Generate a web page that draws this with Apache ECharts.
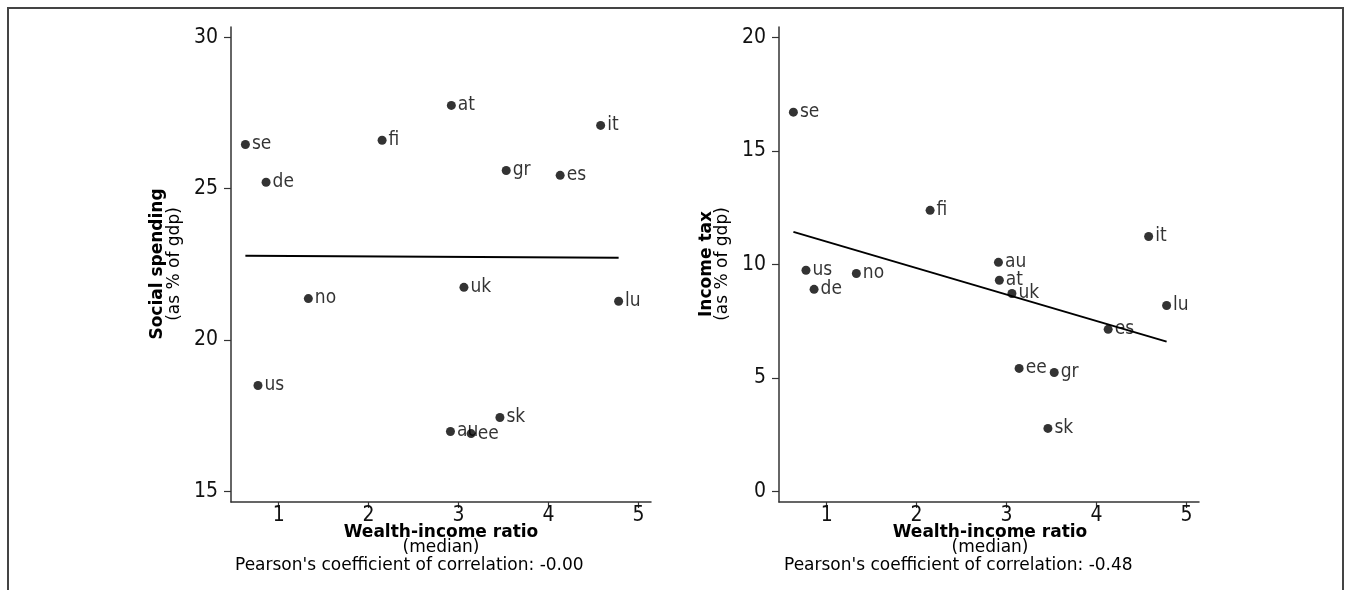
<!DOCTYPE html>
<html>
<head>
<meta charset="utf-8">
<script src="https://cdn.jsdelivr.net/npm/echarts@6/dist/echarts.min.js"></script>
<style>
html,body{margin:0;padding:0;background:#fff;}
#chart{width:1348px;height:590px;}
</style>
</head>
<body>
<div id="chart"></div>
<script>
// ---- data ----
const countries = ['se','de','fi','at','gr','es','it','no','uk','lu','us','au','ee','sk'];
const wealthIncome = [0.63,0.86,2.15,2.92,3.53,4.13,4.58,1.33,3.06,4.78,0.77,2.91,3.14,3.46];
const socialSpending = [26.46,25.21,26.60,27.75,25.60,25.44,27.09,21.37,21.74,21.28,18.50,16.98,16.91,17.44];
const incomeTax = [16.70,8.90,12.38,9.30,5.24,7.14,11.23,9.60,8.72,8.19,9.74,10.09,5.42,2.78];
const fitX = [0.63, 4.78];
const socialFitY = [22.78, 22.72];
const incomeFitY = [11.43, 6.60];
const xTicks = [1,2,3,4,5];
const socialTicks = [15,20,25,30];
const incomeTicks = [0,5,10,15,20];
const pearsonSocial = '-0.00';
const pearsonIncome = '-0.48';

const FONT = 'DejaVu Sans';
const CFONT = '"DejaVu Sans Condensed", "DejaVu Sans"';
const chart = echarts.init(document.getElementById('chart'), null, {renderer:'canvas'});

function xAxisCfg(gridIndex){
  return {
    type:'value', gridIndex, min:0.47, max:5.14,
    axisLine:{show:true, onZero:false, lineStyle:{color:'#333', width:1.5}},
    axisTick:{show:true, length:6, customValues:xTicks, lineStyle:{color:'#333', width:1.2}},
    axisLabel:{show:true, customValues:xTicks, margin:3, fontSize:21, fontFamily:CFONT, color:'#111'},
    splitLine:{show:false}
  };
}
function yAxisCfg(gridIndex, min, max, ticks){
  return {
    type:'value', gridIndex, min, max,
    axisLine:{show:true, onZero:false, lineStyle:{color:'#333', width:1.5}},
    axisTick:{show:true, length:7, customValues:ticks, lineStyle:{color:'#333', width:1.2}},
    axisLabel:{show:true, customValues:ticks, margin:13, fontSize:21, fontFamily:CFONT, color:'#111'},
    splitLine:{show:false}
  };
}
function scatterSeries(idx, yVals){
  return {
    type:'scatter', xAxisIndex:idx, yAxisIndex:idx,
    data: countries.map((c,i)=>[wealthIncome[i], yVals[i], c]),
    symbol:'circle', symbolSize:9,
    itemStyle:{color:'#000'},
    label:{show:true, position:'right', distance:2, formatter:p=>p.data[2],
      fontSize:19, fontFamily:CFONT, color:'#000'},
    emphasis:{disabled:true}, silent:true, z:3
  };
}
function fitSeries(idx, yVals){
  return {
    type:'line', xAxisIndex:idx, yAxisIndex:idx,
    data: fitX.map((x,i)=>[x, yVals[i]]),
    symbol:'none', lineStyle:{color:'#000', width:2},
    emphasis:{disabled:true}, silent:true, z:2
  };
}
function txt(x, y, text, opts){
  opts = opts || {};
  return {
    type:'text', x, y, rotation: opts.rot || 0, silent:true,
    style:{
      text, fill:'#000',
      font: (opts.bold ? 'bold ' : '') + (opts.size || 17) + 'px "' + FONT + '"',
      textAlign: opts.align || 'center', align: opts.align || 'center',
      textVerticalAlign:'middle', verticalAlign:'middle'
    }
  };
}

const option = {
  animation:false,
  backgroundColor:'#fff',
  grid:[
    {left:231, top:27, width:420, height:475},
    {left:779, top:27, width:420, height:475}
  ],
  xAxis:[xAxisCfg(0), xAxisCfg(1)],
  yAxis:[yAxisCfg(0, 14.65, 30.34, socialTicks), yAxisCfg(1, -0.46, 20.45, incomeTicks)],
  series:[
    fitSeries(0, socialFitY), scatterSeries(0, socialSpending),
    fitSeries(1, incomeFitY), scatterSeries(1, incomeTax)
  ],
  graphic:[
    {type:'rect', silent:true, shape:{x:8, y:8, width:1335, height:700},
     style:{fill:'none', stroke:'#444', lineWidth:2}},
    txt(158, 264, 'Social spending', {bold:true, rot:Math.PI/2}),
    txt(175, 264, '(as % of gdp)', {rot:Math.PI/2}),
    txt(707, 264, 'Income tax', {bold:true, rot:Math.PI/2}),
    txt(723, 264, '(as % of gdp)', {rot:Math.PI/2}),
    txt(441, 533, 'Wealth-income ratio', {bold:true}),
    txt(441, 548, '(median)'),
    txt(235, 566, "Pearson's coefficient of correlation: " + pearsonSocial, {align:'left'}),
    txt(990, 533, 'Wealth-income ratio', {bold:true}),
    txt(990, 548, '(median)'),
    txt(784, 566, "Pearson's coefficient of correlation: " + pearsonIncome, {align:'left'})
  ]
};
chart.setOption(option);
</script>
</body>
</html>
